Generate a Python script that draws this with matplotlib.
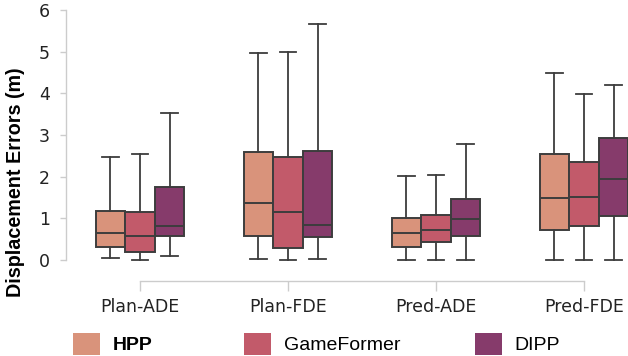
import matplotlib.pyplot as plt
from matplotlib.patches import Patch

plt.rcParams['font.family'] = 'DejaVu Sans'

metrics = ['Plan-ADE', 'Plan-FDE', 'Pred-ADE', 'Pred-FDE']
models = ['HPP', 'GameFormer', 'DIPP']
colors = ['#d9937b', '#c25a6a', '#863b6b']

# five-number summary per metric: whislo, q1, median, q3, whishi
hpp = [
    [0.04, 0.32, 0.64, 1.18, 2.48],
    [0.02, 0.58, 1.36, 2.60, 4.98],
    [0.01, 0.32, 0.65, 1.02, 2.02],
    [0.01, 0.72, 1.50, 2.54, 4.50],
]
gameformer = [
    [0.01, 0.19, 0.59, 1.15, 2.54],
    [0.01, 0.28, 1.16, 2.48, 4.99],
    [0.01, 0.44, 0.73, 1.08, 2.05],
    [0.01, 0.82, 1.51, 2.35, 3.99],
]
dipp = [
    [0.10, 0.57, 0.83, 1.76, 3.53],
    [0.02, 0.56, 0.85, 2.62, 5.66],
    [0.01, 0.57, 0.98, 1.46, 2.78],
    [0.01, 1.06, 1.95, 2.94, 4.20],
]
summaries = [hpp, gameformer, dipp]

line_c = '#3d3d3d'
spine_c = '#cccccc'
box_w = 0.2

fig = plt.figure(figsize=(6.28, 3.56), dpi=100)
ax = fig.add_axes([66 / 628, 75 / 356, 592 / 628, 271 / 356])

for k, (name, data, col) in enumerate(zip(models, summaries, colors)):
    stats = []
    for row in data:
        lo, q1, med, q3, hi = row
        stats.append(dict(whislo=lo, q1=q1, med=med, q3=q3, whishi=hi, fliers=[]))
    pos = [i + (k - 1) * box_w for i in range(len(metrics))]
    ax.bxp(stats, positions=pos, widths=box_w * 0.98, patch_artist=True,
           showfliers=False, capwidths=0.11,
           boxprops=dict(facecolor=col, edgecolor=line_c, linewidth=1.4),
           whiskerprops=dict(color=line_c, linewidth=1.3),
           capprops=dict(color=line_c, linewidth=1.3),
           medianprops=dict(color=line_c, linewidth=1.4))

ax.set_xlim(-0.5, 3.5)
ax.set_ylim(-0.5, 6)
ax.set_xticks(range(len(metrics)))
ax.set_xticklabels(metrics, fontsize=12.5)
ax.set_yticks(range(7))
ax.set_yticklabels([str(v) for v in range(7)], fontsize=12.5)

for s in ['top', 'right']:
    ax.spines[s].set_visible(False)
for s in ['left', 'bottom']:
    ax.spines[s].set_color(spine_c)
    ax.spines[s].set_linewidth(1.0)
ax.spines['left'].set_bounds(0, 6)
ax.spines['bottom'].set_bounds(0, 3)
ax.tick_params(axis='x', length=7, width=1.0, color=spine_c, pad=5, labelcolor='#222222')
ax.tick_params(axis='y', length=4.5, width=1.0, color=spine_c, pad=7, labelcolor='#222222')

ax.set_ylabel('Displacement Errors (m)', fontsize=14.2, fontweight='bold',
              family='Liberation Sans')
ax.yaxis.set_label_coords(-0.069, 0.365)

# legend entries laid out in a row under the axis
legend_x = [73 / 628, 244 / 628, 475 / 628]
for name, col, x in zip(models, colors, legend_x):
    leg = fig.legend(handles=[Patch(facecolor=col, edgecolor='none')], labels=[name],
                     loc='center left', bbox_to_anchor=(x, 1 - 344 / 356),
                     frameon=False, borderpad=0, borderaxespad=0,
                     handlelength=1.4, handleheight=1.4, handletextpad=0.65,
                     prop=dict(family='Liberation Sans', size=14))
    if name == 'HPP':
        leg.get_texts()[0].set_fontweight('bold')

fig.savefig('out.png', dpi=100)
